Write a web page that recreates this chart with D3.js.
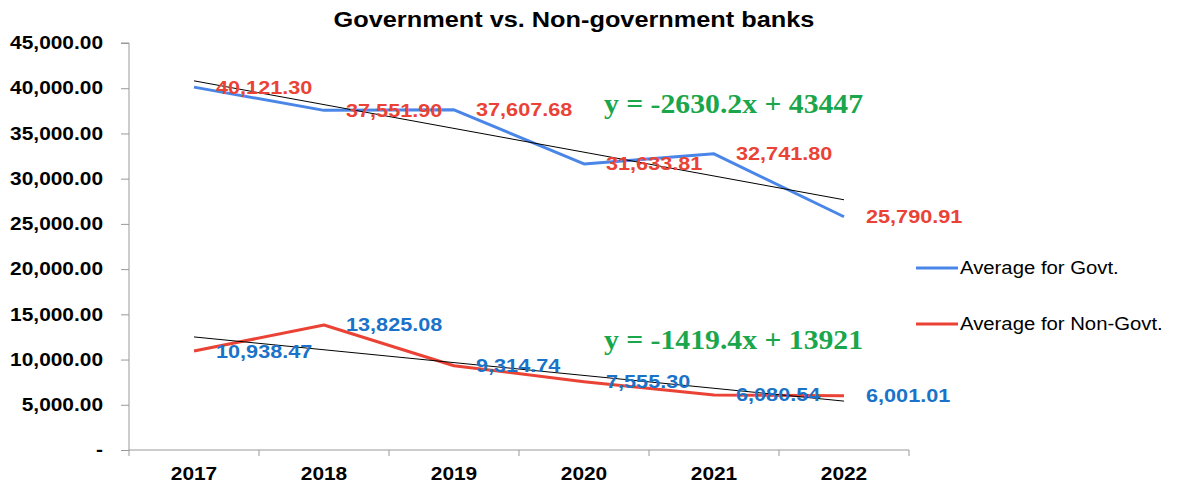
<!DOCTYPE html>
<html>
<head>
<meta charset="utf-8">
<script src="https://cdn.jsdelivr.net/npm/d3@7"></script>
<style>
  body { margin: 0; background: #fff; }
  text { font-family: "Liberation Sans", Arial, sans-serif; }
</style>
</head>
<body>
<svg id="chart" width="1181" height="486"></svg>
<script>
// data
const years = ["2017", "2018", "2019", "2020", "2021", "2022"];
const govt = [40121.30, 37551.90, 37607.68, 31633.81, 32741.80, 25790.91];
const nonGovt = [10938.47, 13825.08, 9314.74, 7555.30, 6080.54, 6001.01];
const yTicks = [0, 5000, 10000, 15000, 20000, 25000, 30000, 35000, 40000, 45000];
const seriesNames = ["Average for Govt.", "Average for Non-Govt."];

const svg = d3.select("#chart"),
    width = +svg.attr("width"),
    height = +svg.attr("height");

const margin = {left: 129, right: 272, top: 43, bottom: 36};
const STRETCH = 1.16; // reference text is drawn a bit wide

// widen text horizontally to match the reference
function stretch(sel, k) {
    sel.each(function() {
        const len = this.getComputedTextLength();
        d3.select(this)
            .attr("textLength", len * k)
            .attr("lengthAdjust", "spacingAndGlyphs");
    });
}

const x = d3.scaleBand()
    .domain(years)
    .range([margin.left, width - margin.right]);

const y = d3.scaleLinear()
    .domain([0, 45000])
    .range([height - margin.bottom, margin.top]);

const fmt = d3.format(",.2f");

// title
svg.append("text")
    .attr("x", 574)
    .attr("y", 27)
    .attr("text-anchor", "middle")
    .style("font-size", "22px")
    .style("font-weight", "bold")
    .text("Government vs. Non-government banks")
    .call(stretch, 1.15);

// y axis
const yAxis = svg.append("g")
    .attr("transform", `translate(${margin.left},0)`)
    .call(d3.axisLeft(y).tickValues(yTicks).tickSize(8).tickPadding(18)
        .tickFormat(d => d === 0 ? "-" : fmt(d)));
yAxis.select(".domain").attr("stroke", "#999").attr("d", `M-8,${y(45000)}H0V${y(0)}`);
yAxis.selectAll(".tick line").attr("stroke", "#999");
yAxis.selectAll(".tick text")
    .style("font-family", "'Liberation Sans', Arial, sans-serif")
    .style("font-size", "18px")
    .style("font-weight", "bold")
    .attr("fill", "#000")
    .call(stretch, STRETCH);

// x axis
const boundaries = years.map(d => x(d)).concat([x.range()[1]]);
const xAxis = svg.append("g");
xAxis.append("line")
    .attr("x1", margin.left).attr("x2", x.range()[1])
    .attr("y1", y(0)).attr("y2", y(0))
    .attr("stroke", "#999");
xAxis.selectAll(".xtick")
    .data(boundaries)
    .enter().append("line")
    .attr("x1", d => d).attr("x2", d => d)
    .attr("y1", y(0)).attr("y2", y(0) + 6)
    .attr("stroke", "#999");
xAxis.selectAll(".xlabel")
    .data(years)
    .enter().append("text")
    .attr("x", d => x(d) + x.bandwidth() / 2)
    .attr("y", y(0) + 30)
    .attr("text-anchor", "middle")
    .style("font-size", "18px")
    .style("font-weight", "bold")
    .text(d => d)
    .call(stretch, STRETCH);

const cx = (d, i) => x(years[i]) + x.bandwidth() / 2;

// linear trend (least squares on x = 1..n)
function trend(vals) {
    const xs = vals.map((_, i) => i + 1);
    const mx = d3.mean(xs), my = d3.mean(vals);
    const slope = d3.sum(xs, (v, i) => (v - mx) * (vals[i] - my)) / d3.sum(xs, v => (v - mx) ** 2);
    return {slope, intercept: my - slope * mx};
}

const line = d3.line().x(cx).y(d => y(d));

const series = [
    {name: seriesNames[0], values: govt, color: "#4a86e8", labelColor: "#ea4335", eqY: 104},
    {name: seriesNames[1], values: nonGovt, color: "#ea4335", labelColor: "#1a73c8", eqY: 340}
];

series.forEach(s => {
    svg.append("path")
        .datum(s.values)
        .attr("fill", "none")
        .attr("stroke", s.color)
        .attr("stroke-width", 3)
        .attr("stroke-linejoin", "round")
        .attr("d", line);
});

series.forEach(s => {
    const t = trend(s.values);
    const fit = s.values.map((_, i) => t.slope * (i + 1) + t.intercept);
    svg.append("path")
        .datum(fit)
        .attr("fill", "none")
        .attr("stroke", "#000")
        .attr("stroke-width", 1)
        .attr("d", line);

    svg.append("text")
        .attr("x", 604)
        .attr("y", s.eqY)
        .attr("dy", "0.35em")
        .style("font-family", "'Liberation Serif', 'Times New Roman', serif")
        .style("font-size", "27px")
        .style("font-weight", "bold")
        .attr("fill", "#1aa64b")
        .text(`y = ${t.slope.toFixed(1)}x + ${Math.round(t.intercept)}`)
        .call(stretch, 1.1);
});

// data labels
series.forEach(s => {
    svg.selectAll(null)
        .data(s.values)
        .enter().append("text")
        .attr("x", (d, i) => cx(d, i) + 22)
        .attr("y", d => y(d))
        .attr("dy", "0.35em")
        .style("font-size", "18.5px")
        .style("font-weight", "bold")
        .attr("fill", s.labelColor)
        .text(d => fmt(d))
        .call(stretch, 1.17);
});

// legend
const legend = svg.append("g")
    .selectAll("g")
    .data(series)
    .enter().append("g")
    .attr("transform", (d, i) => `translate(916,${268 + i * 56})`);
legend.append("line")
    .attr("x1", 0).attr("x2", 42)
    .attr("stroke", d => d.color)
    .attr("stroke-width", 3);
legend.append("text")
    .attr("x", 44)
    .attr("dy", "0.35em")
    .style("font-size", "17.5px")
    .attr("fill", "#000")
    .text(d => d.name)
    .call(stretch, STRETCH);
</script>
</body>
</html>
